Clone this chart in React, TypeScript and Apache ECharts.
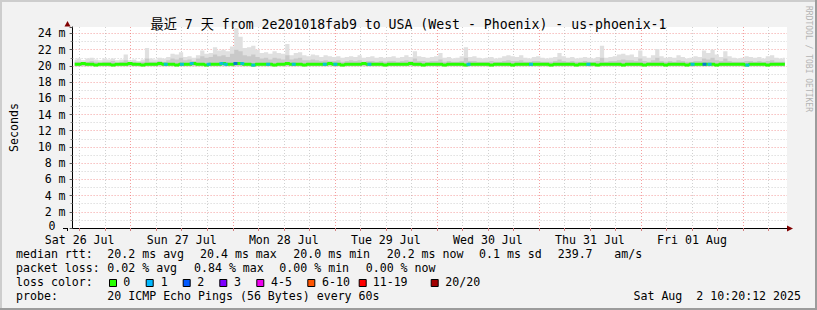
import React, { useEffect, useRef } from 'react';
import * as echarts from 'echarts';

// Time is measured in hours after Sat 26 Jul 00:00; the graph covers 7 days ending Sat Aug 2 10:20:12.
const START_HOUR = 10 + 20 / 60 + 12 / 3600;
const SPAN_HOURS = 168;

const titleText = '最近 7 天 from 2e201018fab9 to USA (West - Phoenix) - us-phoenix-1';
const dayLabels = ['Sat 26 Jul', 'Sun 27 Jul', 'Mon 28 Jul', 'Tue 29 Jul', 'Wed 30 Jul', 'Thu 31 Jul', 'Fri 01 Aug'];
const dayLabelHours = [12, 36, 60, 84, 108, 132, 156];

// lowest ping level (ms)
const smokeFloor = 19.95;

// highest ping of each hour (ms), one value per hour from the start
const smokeMax = [
  20.8, 20.9, 20.7, 20.9, 21.0, 20.8, 20.7, 20.9, 20.8, 20.9, 20.7, 20.8,
  21.4, 20.7, 20.8, 20.6, 20.8, 22.2, 20.9, 20.8, 21.0, 20.9, 21.1, 21.5,
  21.4, 21.7, 21.1, 21.2, 21.0, 21.3, 21.9, 21.5, 21.6, 22.3, 21.9, 22.0,
  21.8, 22.4, 24.7, 23.6, 22.2, 22.3, 22.5, 22.0, 21.6, 21.7, 21.5, 21.8,
  21.6, 21.5, 22.7, 21.3, 21.6, 21.7, 21.3, 21.2, 21.4, 21.3, 21.1, 21.3,
  21.2, 21.1, 21.2, 21.0, 21.1, 21.2, 21.1, 21.3, 21.0, 21.1, 21.2, 21.0,
  21.1, 21.0, 21.1, 21.2, 21.0, 21.1, 21.3, 21.1, 21.8, 21.2, 21.1, 21.0,
  21.1, 21.2, 21.6, 21.0, 21.1, 20.9, 21.0, 21.2, 22.3, 21.1, 21.2, 21.0,
  20.9, 21.0, 21.1, 20.9, 21.0, 21.2, 21.3, 21.2, 21.1, 21.3, 21.0, 20.9,
  21.1, 21.2, 21.0, 20.9, 21.0, 21.1, 21.6, 21.2, 21.0, 21.1, 20.9, 21.0,
  21.1, 21.0, 20.9, 21.1, 22.5, 21.0, 21.1, 21.2, 21.4, 21.5, 21.3, 21.4,
  21.1, 21.9, 21.2, 21.0, 21.3, 22.1, 21.2, 21.0, 21.1, 21.0, 21.3, 21.1,
  20.9, 21.0, 21.2, 21.1, 21.9, 21.6, 22.0, 21.4, 21.1, 21.8, 21.2, 21.0,
  20.9, 21.0, 21.2, 21.1, 21.0, 21.1, 20.9, 21.2, 21.3, 21.0, 20.9, 21.0,
];

// upper edge of the denser inner smoke (ms)
const smokeInner = [
  20.5, 20.5, 20.4, 20.5, 20.6, 20.5, 20.4, 20.5, 20.5, 20.6, 20.4, 20.5,
  20.7, 20.4, 20.5, 20.4, 20.5, 20.9, 20.5, 20.5, 20.6, 20.5, 20.7, 20.9,
  20.8, 21.0, 20.7, 20.8, 20.6, 20.9, 21.2, 21.0, 21.1, 21.4, 21.2, 21.3,
  21.1, 21.5, 22.0, 21.8, 21.3, 21.2, 21.4, 21.1, 20.9, 21.0, 20.8, 21.0,
  20.9, 20.8, 21.3, 20.8, 20.9, 21.0, 20.7, 20.7, 20.8, 20.7, 20.6, 20.7,
  20.6, 20.6, 20.7, 20.5, 20.6, 20.7, 20.6, 20.7, 20.5, 20.6, 20.6, 20.5,
  20.6, 20.5, 20.6, 20.6, 20.5, 20.6, 20.7, 20.6, 20.9, 20.6, 20.6, 20.5,
  20.6, 20.6, 20.8, 20.5, 20.6, 20.5, 20.5, 20.6, 21.0, 20.6, 20.6, 20.5,
  20.5, 20.5, 20.6, 20.5, 20.5, 20.6, 20.7, 20.6, 20.6, 20.7, 20.5, 20.5,
  20.6, 20.6, 20.5, 20.5, 20.5, 20.6, 20.8, 20.6, 20.5, 20.6, 20.5, 20.5,
  20.6, 20.5, 20.5, 20.6, 21.0, 20.5, 20.6, 20.6, 20.7, 20.8, 20.7, 20.7,
  20.6, 20.9, 20.6, 20.5, 20.7, 21.0, 20.6, 20.5, 20.6, 20.5, 20.7, 20.6,
  20.5, 20.5, 20.6, 20.6, 20.9, 20.8, 21.0, 20.7, 20.6, 20.9, 20.6, 20.5,
  20.5, 20.5, 20.6, 20.6, 20.5, 20.6, 20.5, 20.6, 20.7, 20.5, 20.5, 20.5,
];

// median round-trip time of each hour (ms)
const medianRtt = [
  20.2, 20.2, 20.3, 20.2, 20.2, 20.1, 20.2, 20.2, 20.2, 20.1, 20.2, 20.2,
  20.2, 20.3, 20.2, 20.2, 20.1, 20.2, 20.2, 20.2, 20.3, 20.2, 20.2, 20.2,
  20.1, 20.2, 20.2, 20.2, 20.3, 20.2, 20.2, 20.1, 20.2, 20.2, 20.2, 20.3,
  20.2, 20.2, 20.3, 20.3, 20.2, 20.2, 20.1, 20.2, 20.2, 20.2, 20.2, 20.1,
  20.2, 20.2, 20.3, 20.2, 20.2, 20.2, 20.1, 20.2, 20.2, 20.2, 20.2, 20.2,
  20.3, 20.2, 20.2, 20.1, 20.2, 20.2, 20.2, 20.2, 20.3, 20.2, 20.2, 20.2,
  20.2, 20.1, 20.2, 20.2, 20.2, 20.2, 20.2, 20.3, 20.2, 20.2, 20.1, 20.2,
  20.2, 20.2, 20.2, 20.1, 20.2, 20.2, 20.2, 20.2, 20.1, 20.2, 20.2, 20.2,
  20.2, 20.2, 20.1, 20.2, 20.2, 20.2, 20.2, 20.1, 20.2, 20.2, 20.2, 20.2,
  20.2, 20.2, 20.2, 20.2, 20.1, 20.2, 20.2, 20.2, 20.2, 20.2, 20.1, 20.2,
  20.2, 20.2, 20.2, 20.1, 20.2, 20.2, 20.2, 20.2, 20.2, 20.1, 20.2, 20.2,
  20.2, 20.2, 20.1, 20.2, 20.2, 20.2, 20.2, 20.1, 20.2, 20.2, 20.2, 20.2,
  20.1, 20.2, 20.2, 20.2, 20.2, 20.2, 20.2, 20.1, 20.2, 20.2, 20.2, 20.2,
  20.2, 20.2, 20.1, 20.2, 20.2, 20.2, 20.2, 20.1, 20.2, 20.2, 20.2, 20.2,
];

// moments with lost packets (hours after start) and how many of 20 were lost
const lossHours = [21.9, 25.7, 28.0, 32.0, 35.0, 36.0, 38.3, 39.9, 42.5, 46.0, 52.0, 59.3, 61.8, 69.8, 93.1, 107.8, 121.3, 145.8, 148.6, 149.8, 158.7];
const lossCounts = [1, 1, 1, 1, 1, 1, 2, 1, 1, 1, 1, 1, 1, 1, 1, 1, 1, 1, 2, 1, 1];

const lossLegendLabels = ['0', '1', '2', '3', '4-5', '6-10', '11-19', '20/20'];
const lossLegendColors = ['#26ff00', '#00b8ff', '#0059ff', '#7e00ff', '#ee00ee', '#ff5500', '#ff0000', '#a10000'];

const medianStats = ['20.2 ms avg', '20.4 ms max', '20.0 ms min', '20.2 ms now', '0.1 ms sd', '239.7', 'am/s'];
const lossStats = ['0.02 % avg', '0.84 % max', '0.00 % min', '0.00 % now'];
const probeText = '20 ICMP Echo Pings (56 Bytes) every 60s';
const stampText = 'Sat Aug  2 10:20:12 2025';
const creditText = 'RRDTOOL / TOBI OETIKER';

const MONO = "'DejaVu Sans Mono', 'Noto Sans CJK SC', monospace";
const FS = 11.6;

export default function App() {
  const ref = useRef<HTMLDivElement>(null);

  useEffect(() => {
    document.body.style.margin = '0';
    const chart = echarts.init(ref.current!, null, { renderer: 'svg' });

    const endHour = START_HOUR + SPAN_HOURS;
    const gridHours: number[] = [];
    for (let h = Math.ceil(START_HOUR / 6) * 6; h <= endHour; h += 6) gridHours.push(h);
    const gridColors = gridHours.map((h) => (h % 24 === 0 ? 'rgba(235,80,80,0.55)' : 'rgba(150,150,150,0.45)'));

    const xs = smokeMax.map((_, i) => START_HOUR + i + 0.5);
    const outerData = xs.map((x, i) => [x, smokeMax[i]]);
    const innerData = xs.map((x, i) => [x, smokeInner[i]]);
    const medianData = xs.map((x, i) => [x, medianRtt[i]]);
    const lossData = lossHours.map((h, k) => [START_HOUR + h, medianRtt[Math.floor(h)], lossCounts[k]]);

    const txt = (x: number, y: number, text: string, align = 'left') => ({
      type: 'text',
      x,
      y,
      silent: true,
      style: {
        text,
        font: `${FS}px ${MONO}`,
        fill: '#000',
        textAlign: align,
        align,
        textVerticalAlign: 'middle',
        verticalAlign: 'middle',
      },
    });

    const rowY = [254.3, 268.3, 282.3, 296.3];
    const medianX = [107.3, 200, 293.3, 386.7, 479, 557.7, 614.3];
    const lossX = [107.3, 194, 279.3, 365.7];
    const boxX = [109, 145.7, 182.7, 219.3, 256.3, 307.3, 358.7, 430.7];
    const boxLabelX = [123.3, 160.7, 197.3, 234, 271, 322, 372.7, 445.3];

    const graphics: any[] = [
      { type: 'rect', shape: { x: 0, y: 0, width: 817, height: 2 }, style: { fill: '#cdcdcd' }, silent: true },
      { type: 'rect', shape: { x: 0, y: 0, width: 2, height: 310 }, style: { fill: '#cdcdcd' }, silent: true },
      { type: 'rect', shape: { x: 0, y: 308, width: 817, height: 2 }, style: { fill: '#9c9c9c' }, silent: true },
      { type: 'rect', shape: { x: 815, y: 0, width: 2, height: 310 }, style: { fill: '#9c9c9c' }, silent: true },
      // axis extensions and arrow heads
      { type: 'line', shape: { x1: 63, y1: 228.5, x2: 67, y2: 228.5 }, style: { stroke: '#000', lineWidth: 1 }, silent: true },
      { type: 'line', shape: { x1: 67.5, y1: 228, x2: 67.5, y2: 231 }, style: { stroke: '#000', lineWidth: 1 }, silent: true },
      { type: 'polygon', shape: { points: [[64.5, 26.5], [70.5, 26.5], [67.5, 21]] }, style: { fill: '#800000' }, silent: true },
      { type: 'polygon', shape: { points: [[787, 225.5], [787, 231.5], [793, 228.5]] }, style: { fill: '#800000' }, silent: true },
      {
        type: 'text',
        x: 808,
        y: 59,
        rotation: -Math.PI / 2,
        silent: true,
        style: {
          text: creditText,
          font: `8px ${MONO}`,
          fill: '#b4b4b4',
          textAlign: 'center',
          align: 'center',
          textVerticalAlign: 'middle',
          verticalAlign: 'middle',
        },
      },
      txt(16, rowY[0], 'median rtt:'),
      ...medianStats.map((s, i) => txt(medianX[i], rowY[0], s)),
      txt(16, rowY[1], 'packet loss:'),
      ...lossStats.map((s, i) => txt(lossX[i], rowY[1], s)),
      txt(16, rowY[2], 'loss color:'),
      ...lossLegendColors.map((c, i) => ({
        type: 'rect',
        silent: true,
        shape: { x: boxX[i] + 0.5, y: 279.5, width: 7, height: 7 },
        style: { fill: c, stroke: '#000', lineWidth: 1 },
      })),
      ...lossLegendLabels.map((s, i) => txt(boxLabelX[i], rowY[2], s)),
      txt(16, rowY[3], 'probe:'),
      txt(107.3, rowY[3], probeText),
      txt(801, rowY[3], stampText, 'right'),
    ];

    chart.setOption({
      animation: false,
      backgroundColor: '#f2f2f2',
      textStyle: { fontFamily: MONO },
      title: {
        text: titleText,
        left: 'center',
        top: 13,
        textStyle: { fontFamily: MONO, fontSize: 13.2, fontWeight: 'normal', color: '#000' },
      },
      grid: { left: 67, right: 30, top: 27, bottom: 82, show: true, backgroundColor: '#ffffff', borderWidth: 0 },
      xAxis: {
        type: 'value',
        min: START_HOUR,
        max: endHour,
        axisLine: { show: true, lineStyle: { color: '#000', width: 1 } },
        axisTick: { show: true, customValues: gridHours, length: 3, lineStyle: { color: '#d08080' } },
        axisLabel: {
          customValues: dayLabelHours,
          formatter: (v: number) => dayLabels[dayLabelHours.indexOf(Math.round(v))] ?? '',
          fontFamily: MONO,
          fontSize: FS,
          lineHeight: 12,
          color: '#000',
          margin: 6,
        },
        splitLine: { show: true, lineStyle: { color: gridColors, type: [1, 2], width: 1 } },
      },
      yAxis: {
        type: 'value',
        min: 0,
        max: 24.8,
        interval: 2,
        name: 'Seconds',
        nameLocation: 'middle',
        nameGap: 53,
        nameTextStyle: { fontFamily: MONO, fontSize: FS, color: '#000' },
        axisLine: { show: true, lineStyle: { color: '#000', width: 1 } },
        axisTick: { show: true, length: 3, lineStyle: { color: '#555' } },
        minorTick: { show: true, splitNumber: 2, length: 2, lineStyle: { color: '#888' } },
        axisLabel: {
          showMaxLabel: false,
          fontFamily: MONO,
          fontSize: FS,
          lineHeight: 10,
          color: '#000',
          margin: 7,
          formatter: (v: number) => (v === 0 ? '{z|0}' : `${v} m`),
          rich: { z: { fontFamily: MONO, fontSize: FS, lineHeight: 9, color: '#000', padding: [0, 10, 4, 0] } },
        },
        splitLine: { show: true, showMaxLine: false, lineStyle: { color: 'rgba(235,80,80,0.55)', type: [1, 2], width: 1 } },
        minorSplitLine: { show: true, lineStyle: { color: 'rgba(150,150,150,0.45)', type: [1, 2], width: 1 } },
      },
      series: [
        {
          type: 'line',
          name: 'smoke',
          data: outerData,
          step: 'middle',
          symbol: 'none',
          lineStyle: { width: 0, opacity: 0 },
          areaStyle: { color: '#e0e0e0', opacity: 1, origin: smokeFloor },
          silent: true,
        },
        {
          type: 'line',
          name: 'inner smoke',
          data: innerData,
          step: 'middle',
          symbol: 'none',
          lineStyle: { width: 0, opacity: 0 },
          areaStyle: { color: '#c9c9c9', opacity: 1, origin: smokeFloor },
          silent: true,
        },
        {
          type: 'line',
          name: 'median rtt',
          data: medianData,
          step: 'middle',
          symbol: 'none',
          lineStyle: { color: lossLegendColors[0], width: 3 },
          z: 5,
          silent: true,
        },
        {
          type: 'scatter',
          name: 'loss',
          data: lossData,
          symbol: 'rect',
          symbolSize: [4, 3],
          itemStyle: { color: (p: any) => lossLegendColors[p.value[2]] },
          z: 6,
          silent: true,
        },
      ],
      graphic: { elements: graphics },
    });

    return () => chart.dispose();
  }, []);

  return <div ref={ref} style={{ width: 817, height: 310 }} />;
}
